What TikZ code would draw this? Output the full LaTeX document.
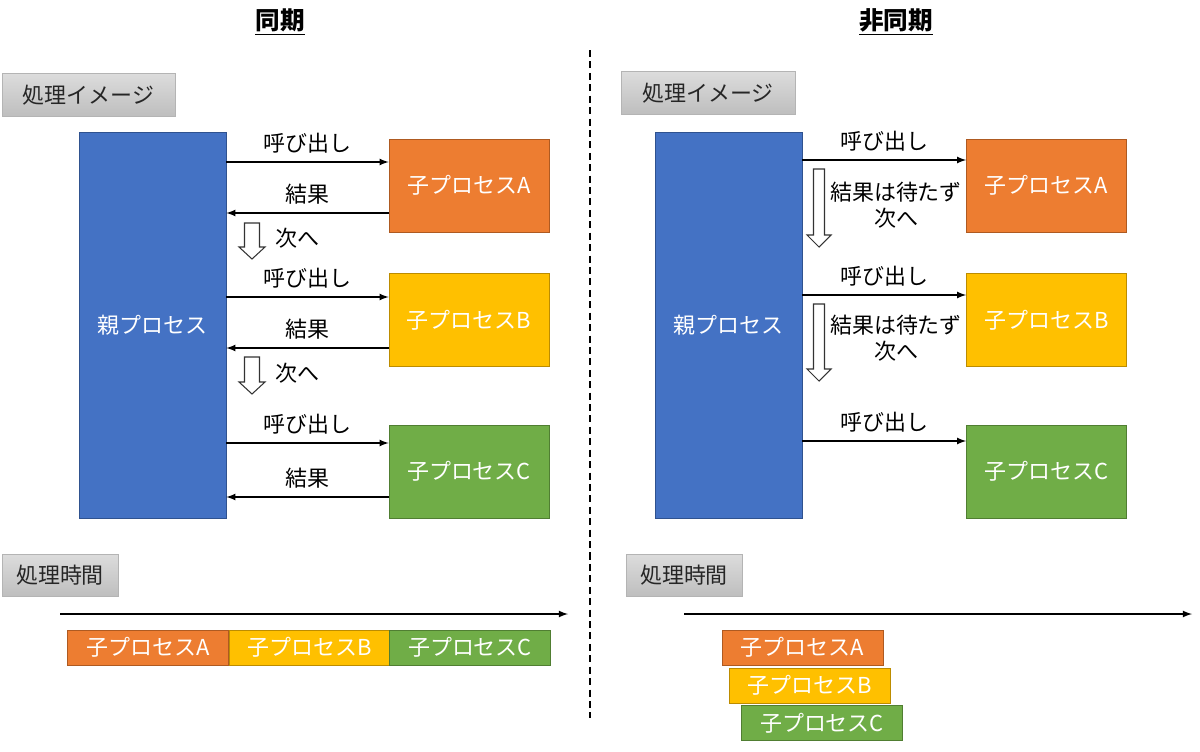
\documentclass[tikz,border=0pt]{standalone}
\usepackage{fontspec}
\setmainfont{Noto Sans CJK JP}
\usepackage{xcolor}

\definecolor{procBlue}{HTML}{4472C4}
\definecolor{procBlueDark}{HTML}{2F528F}
\definecolor{procOrange}{HTML}{ED7D31}
\definecolor{procOrangeDark}{HTML}{AE5A21}
\definecolor{procYellow}{HTML}{FFC000}
\definecolor{procYellowDark}{HTML}{BC8C00}
\definecolor{procGreen}{HTML}{70AD47}
\definecolor{procGreenDark}{HTML}{507E32}
\definecolor{tagTop}{HTML}{DCDCDC}
\definecolor{tagBottom}{HTML}{BEBEBE}
\definecolor{tagBorder}{HTML}{B4B4B4}

\begin{document}
\begin{tikzpicture}[
      x = 0.02cm, y = -0.02cm,
      every node/.style = {font = \fontsize{12.5}{15}\selectfont},
      heading/.style = {font = \fontsize{14}{16}\selectfont\bfseries},
      tagbox/.style = {draw = tagBorder, top color = tagTop, bottom color = tagBottom, text = black!85, minimum height = 0.85cm},
      parent/.style = {draw = procBlueDark, fill = procBlue, text = white, minimum width = 2.94cm, minimum height = 7.72cm},
      child/.style = {draw = #1Dark, fill = #1, text = white, minimum width = 3.2cm, minimum height = 1.86cm},
      bar/.style = {draw = #1Dark, fill = #1, text = white, minimum width = 3.22cm, minimum height = 0.7cm, inner sep = 0pt},
      call/.style = {thick, -latex},
      timeline/.style = {thick, -latex},
      pics/nextarrow/.style n args = {3}{code = {
            \draw[draw = black!80, fill = white, line width = 0.6pt]
                  (-#2,0) -- (-#2,#1-12) -- (-#3,#1-12) -- (0,#1) -- (#3,#1-12) -- (#2,#1-12) -- (#2,0) -- cycle;
      }}
      ]
      \useasboundingbox (0,0) rectangle (1200,751);

      % titles and divider
      \node[heading] (syncTitle) at (280,22) {\underline{同期}};
      \node[heading] (asyncTitle) at (896,22) {\underline{非同期}};
      \coordinate (divTop) at (590,50);
      \coordinate (divBottom) at (590,718);
      \draw[line width = 1pt, dash pattern = on 4pt off 2.5pt] (divTop) -- (divBottom);

      % sync
      \node[tagbox, minimum width = 3.46cm] (syncImage) at (88.5,95) {処理イメージ};
      \node[parent] (syncParent) at (152.5,325) {親プロセス};
      \foreach \n/\c/\y/\cy/\ry in {A/procOrange/185.5/162/213, B/procYellow/320/297/348, C/procGreen/471.5/443/497} {
            \node[child = \c] (syncChild\n) at (469,\y) {子プロセス\n};
            \draw[call] (syncParent.east |- 0,\cy) -- node[above = 1pt] {呼び出し} (syncChild\n.west |- 0,\cy);
            \draw[call] (syncChild\n.west |- 0,\ry) -- node[above = 1pt] {結果} (syncParent.east |- 0,\ry);
      }
      \pic (syncNext1) at (252,223) {nextarrow = {36}{7.5}{13}};
      \node (syncNextText1) at (297,238) {次へ};
      \pic (syncNext2) at (252,357) {nextarrow = {37}{7.5}{13}};
      \node (syncNextText2) at (297,373) {次へ};

      \node[tagbox, minimum width = 2.32cm] (syncTime) at (60,575.5) {処理時間};
      \coordinate (syncT0) at (60,614);
      \coordinate (syncT1) at (568,614);
      \draw[timeline] (syncT0) -- (syncT1);
      \foreach \n/\c/\x in {A/procOrange/148, B/procYellow/309.5, C/procGreen/470} {
            \node[bar = \c] (syncBar\n) at (\x,647.5) {子プロセス\n};
      }

      % async
      \node[tagbox, minimum width = 3.48cm] (asyncImage) at (708,93) {処理イメージ};
      \node[parent] (asyncParent) at (728.5,325) {親プロセス};
      \foreach \n/\c/\y/\cy in {A/procOrange/185.5/160, B/procYellow/320/295, C/procGreen/471.5/441} {
            \node[child = \c] (asyncChild\n) at (1046.5,\y) {子プロセス\n};
            \draw[call] (asyncParent.east |- 0,\cy) -- node[above = 1pt] {呼び出し} (asyncChild\n.west |- 0,\cy);
      }
      \pic (asyncNext1) at (819,169) {nextarrow = {78}{5.5}{12}};
      \node[align = center, font = \fontsize{12.5}{14.7}\selectfont] (asyncNextText1) at (896,205) {結果は待たず\\次へ};
      \pic (asyncNext2) at (819,304) {nextarrow = {77}{5.5}{12}};
      \node[align = center, font = \fontsize{12.5}{14.7}\selectfont] (asyncNextText2) at (896,338.5) {結果は待たず\\次へ};

      \node[tagbox, minimum width = 2.32cm] (asyncTime) at (684,575.5) {処理時間};
      \coordinate (asyncT0) at (684,614);
      \coordinate (asyncT1) at (1192,614);
      \draw[timeline] (asyncT0) -- (asyncT1);
      \foreach \n/\c/\x/\y in {A/procOrange/802.5/647.5, B/procYellow/809.5/685.5, C/procGreen/822/723} {
            \node[bar = \c] (asyncBar\n) at (\x,\y) {子プロセス\n};
      }
\end{tikzpicture}
\end{document}
